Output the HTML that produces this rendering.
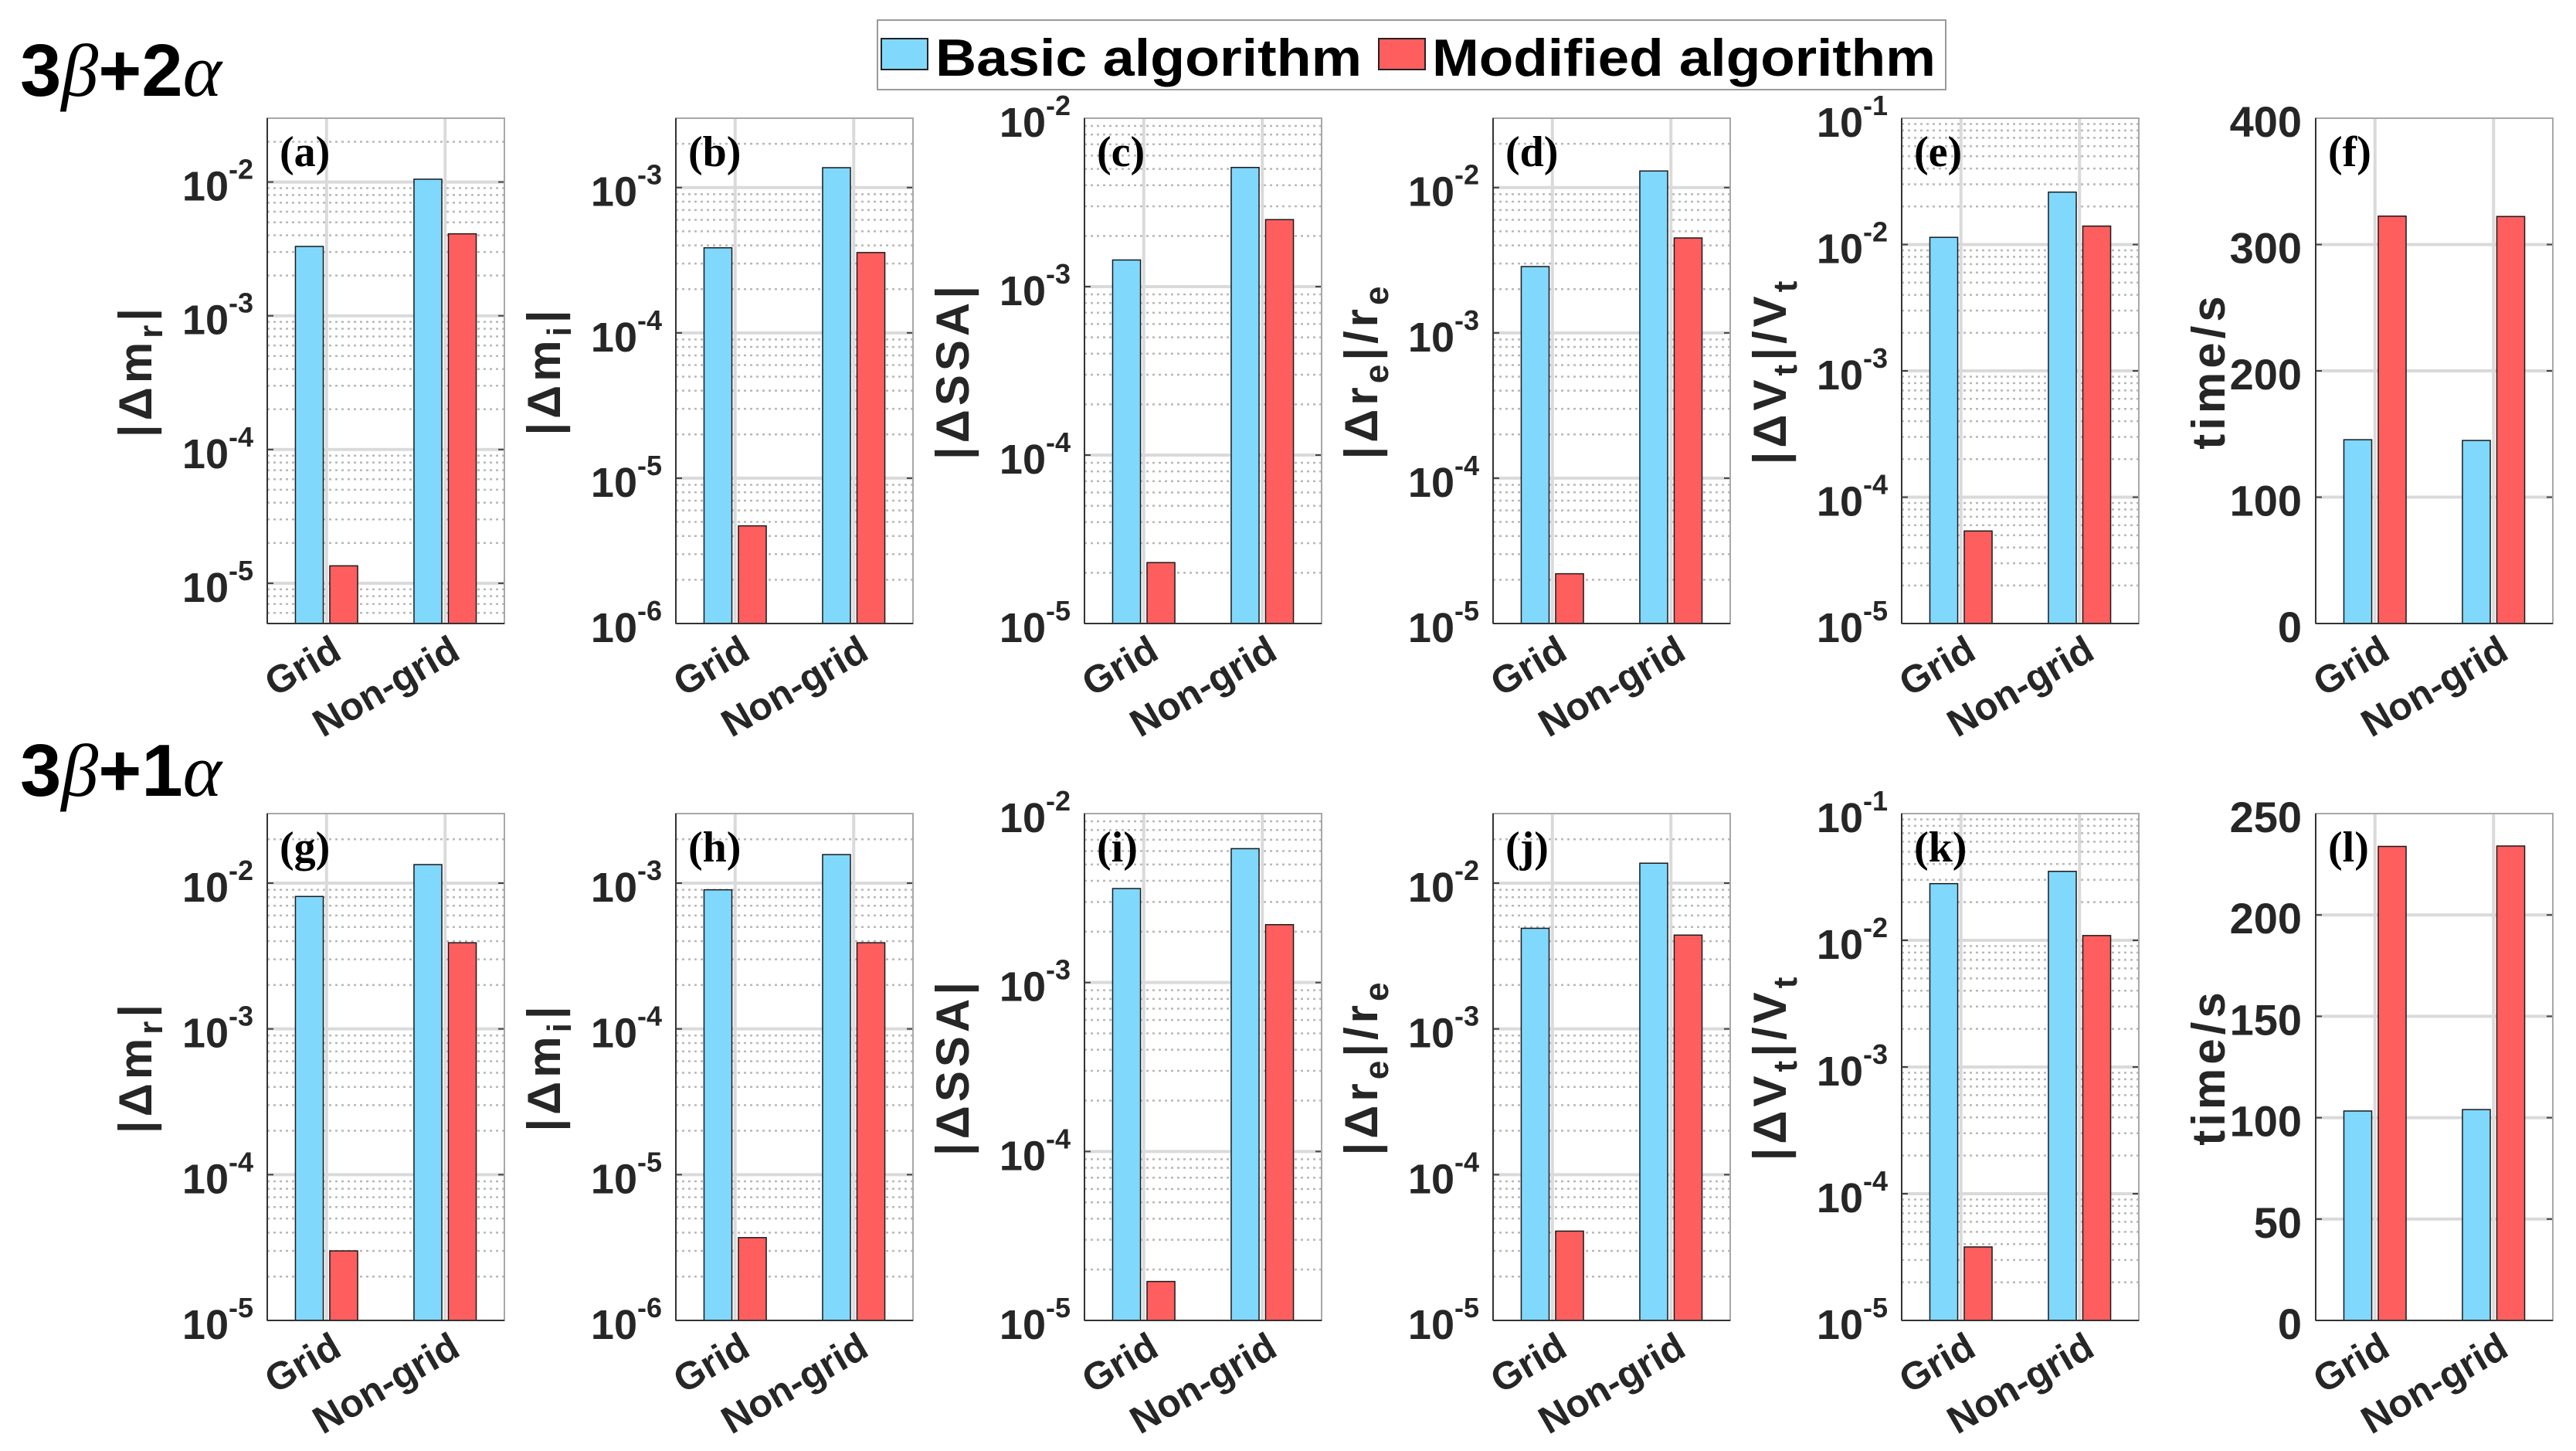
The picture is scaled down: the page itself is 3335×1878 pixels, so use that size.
<!DOCTYPE html>
<html><head><meta charset="utf-8">
<style>
html,body{margin:0;padding:0;background:#fff;}
svg{display:block;}
text{font-family:"Liberation Sans",Arial,sans-serif;font-weight:bold;fill:#262626;}
.serif{font-family:"Liberation Serif","Times New Roman",serif;}
.greek{font-family:"Liberation Serif","Times New Roman",serif;font-style:italic;font-weight:normal;}
</style></head>
<body>
<svg id="fig" width="3335" height="1878" viewBox="0 0 3335 1878" xmlns="http://www.w3.org/2000/svg">
  <rect x="0" y="0" width="3335" height="1878" fill="#fff"/>
  <g>
    <rect x="1136" y="26" width="1383" height="90" fill="#fff" stroke="#9a9a9a" stroke-width="2"/>
    <rect x="1141" y="50" width="60" height="40" fill="#80d8fd" stroke="#222" stroke-width="2"/>
    <text x="1211" y="98" font-size="68" textLength="552" lengthAdjust="spacingAndGlyphs" style="fill:#000">Basic algorithm</text>
    <rect x="1785" y="50" width="60" height="40" fill="#ff5e5e" stroke="#222" stroke-width="2"/>
    <text x="1854" y="98" font-size="68" textLength="652" lengthAdjust="spacingAndGlyphs" style="fill:#000">Modified algorithm</text>
  </g>
  <text x="26" y="124" font-size="96" style="fill:#000">3<tspan class="greek">β</tspan>+2<tspan class="greek">α</tspan></text>
  <text x="26" y="1030" font-size="96" style="fill:#000">3<tspan class="greek">β</tspan>+1<tspan class="greek">α</tspan></text>
  <g id="panels"></g>
</svg>
<script>
const categories = ["Grid", "Non-grid"];
const basicA = [3.3e-3, 1.05e-2];  const modifiedA = [1.35e-5, 4.1e-3];
const basicB = [3.85e-4, 1.37e-3]; const modifiedB = [4.7e-6, 3.57e-4];
const basicC = [1.44e-3, 5.1e-3];  const modifiedC = [2.3e-5, 2.5e-3];
const basicD = [2.86e-3, 1.3e-2];  const modifiedD = [2.2e-5, 4.5e-3];
const basicE = [1.14e-2, 2.6e-2];  const modifiedE = [5.4e-5, 1.4e-2];
const basicF = [145.5, 144.9];     const modifiedF = [322.5, 322.2];
const basicG = [8.1e-3, 1.34e-2];  const modifiedG = [3.0e-5, 3.9e-3];
const basicH = [9.0e-4, 1.57e-3];  const modifiedH = [3.7e-6, 3.9e-4];
const basicI = [3.6e-3, 6.2e-3];   const modifiedI = [1.7e-5, 2.2e-3];
const basicJ = [4.9e-3, 1.37e-2];  const modifiedJ = [4.1e-5, 4.4e-3];
const basicK = [2.8e-2, 3.5e-2];   const modifiedK = [3.8e-5, 1.09e-2];
const basicL = [103.3, 104.0];     const modifiedL = [233.8, 234.0];
const linTicksF = [0, 100, 200, 300, 400];
const linTicksL = [0, 50, 100, 150, 200, 250];

const NS = "http://www.w3.org/2000/svg";
const root = document.getElementById("panels");
function mk(tag, attrs, parent){ const e=document.createElementNS(NS,tag); for(const k in attrs) e.setAttribute(k,attrs[k]); (parent||root).appendChild(e); return e; }

const lefts = [346, 875, 1404, 1933, 2462, 2998];
const W = 307;
const rows = [{top:153,bottom:807},{top:1053,bottom:1709}];
const panels = [
 {id:"a",b:basicA,m:modifiedA,log:true,min:5e-6,max:3e-2,lab:["|Δm","r","|"],r:0,c:0},
 {id:"b",b:basicB,m:modifiedB,log:true,min:1e-6,max:3e-3,lab:["|Δm","i","|"],r:0,c:1},
 {id:"c",b:basicC,m:modifiedC,log:true,min:1e-5,max:1e-2,lab:["|ΔSSA|"],r:0,c:2},
 {id:"d",b:basicD,m:modifiedD,log:true,min:1e-5,max:3e-2,lab:["|Δr","e","|/r","e"],r:0,c:3},
 {id:"e",b:basicE,m:modifiedE,log:true,min:1e-5,max:1e-1,lab:["|ΔV","t","|/V","t"],r:0,c:4},
 {id:"f",b:basicF,m:modifiedF,log:false,min:0,max:400,ticks:linTicksF,lab:["time/s"],r:0,c:5},
 {id:"g",b:basicG,m:modifiedG,log:true,min:1e-5,max:3e-2,lab:["|Δm","r","|"],r:1,c:0},
 {id:"h",b:basicH,m:modifiedH,log:true,min:1e-6,max:3e-3,lab:["|Δm","i","|"],r:1,c:1},
 {id:"i",b:basicI,m:modifiedI,log:true,min:1e-5,max:1e-2,lab:["|ΔSSA|"],r:1,c:2},
 {id:"j",b:basicJ,m:modifiedJ,log:true,min:1e-5,max:3e-2,lab:["|Δr","e","|/r","e"],r:1,c:3},
 {id:"k",b:basicK,m:modifiedK,log:true,min:1e-5,max:1e-1,lab:["|ΔV","t","|/V","t"],r:1,c:4},
 {id:"l",b:basicL,m:modifiedL,log:false,min:0,max:250,ticks:linTicksL,lab:["time/s"],r:1,c:5},
];

panels.forEach(p=>{
  const L=lefts[p.c], T=rows[p.r].top, B=rows[p.r].bottom, H=B-T;
  const g = mk("g",{});
  
  
  const y = v => p.log ? B-(Math.log10(v)-Math.log10(p.min))/(Math.log10(p.max)-Math.log10(p.min))*H
                       : B-(v-p.min)/(p.max-p.min)*H;
  const x = u => L+(u-0.5)/2*W;
  mk("rect",{x:L,y:T,width:W,height:H,fill:"#fff"},g);
  if(p.log){
    for(let e=Math.floor(Math.log10(p.min)); e<Math.ceil(Math.log10(p.max)); e++){
      for(let k=2;k<=9;k++){ const v=k*Math.pow(10,e); if(v<=p.min||v>=p.max) continue;
        mk("line",{x1:L,x2:L+W,y1:y(v),y2:y(v),stroke:"#b8b8b8","stroke-width":2.5,"stroke-dasharray":"3 5"},g);}
    }
  }
  const majors=[];
  if(p.log){ for(let e=Math.ceil(Math.log10(p.min)-1e-9); e<=Math.floor(Math.log10(p.max)+1e-9); e++) majors.push(e); }
  else majors.push(...p.ticks);
  majors.forEach(m=>{
    const v = p.log?Math.pow(10,m):m; const yy=y(v);
    if(yy>T+1 && yy<B-1) mk("line",{x1:L,x2:L+W,y1:yy,y2:yy,stroke:"#dadada","stroke-width":4},g);
    mk("line",{x1:L,x2:L+8,y1:yy,y2:yy,stroke:"#444","stroke-width":2},g);
    mk("line",{x1:L+W-8,x2:L+W,y1:yy,y2:yy,stroke:"#444","stroke-width":2},g);
    const t=mk("text",{x:L-18,y:yy+24,"font-size":p.log?54:56,"text-anchor":"end"},g);
    
    
    if(p.log){ t.textContent="10"; const s=mk("tspan",{dy:-28,"font-size":36},t); s.textContent=String(m); }
    else t.textContent=String(m);
  });
  [1,2].forEach(u=>mk("line",{x1:x(u),x2:x(u),y1:T,y2:B,stroke:"#dadada","stroke-width":4},g));
  const bw=0.235*W/2;
  categories.forEach((cat,i)=>{
    const cx=x(i+1);
    const yb=y(p.b[i]), ym=y(p.m[i]);
    const rb=mk("rect",{x:cx-0.145*W/2-bw/2,y:yb,width:bw,height:B-yb,fill:"#80d8fd",stroke:"#1a1a1a","stroke-width":1.5},g);
    
    
    const rm=mk("rect",{x:cx+0.145*W/2-bw/2,y:ym,width:bw,height:B-ym,fill:"#ff5e5e",stroke:"#1a1a1a","stroke-width":1.5},g);
    
    
    const xt=mk("text",{x:cx+22,y:B+44,"font-size":50,"text-anchor":"end",transform:`rotate(-30 ${cx+22} ${B+44})`},g);
    
    
    xt.textContent=cat;
  });
  mk("rect",{x:L,y:T,width:W,height:H,fill:"none",stroke:"#a8a8a8","stroke-width":2},g);
  mk("line",{x1:L,x2:L,y1:T,y2:B,stroke:"#333","stroke-width":2},g);
  mk("line",{x1:L,x2:L+W,y1:B,y2:B,stroke:"#333","stroke-width":2},g);
  const pl=mk("text",{x:L+16,y:T+62,"font-size":56,"class":"serif"},g);
  
  
  pl.style.fill="#000";
  pl.textContent="("+p.id+")";
  const lx = p.log ? L-150 : L-118, ly=(T+B)/2;
  const yl=mk("text",{x:lx,y:ly,"font-size":60,"text-anchor":"middle","letter-spacing":5,transform:`rotate(-90 ${lx} ${ly})`},g);
  
  
  p.lab.forEach((s,i)=>{
    const ts=mk("tspan",{},yl);
    if(i%2===1){ ts.setAttribute("font-size",44); ts.setAttribute("dy",14); }
    else if(i>0){ ts.setAttribute("dy",-14); }
    ts.textContent=s;
  });
});
</script>
</body></html>
